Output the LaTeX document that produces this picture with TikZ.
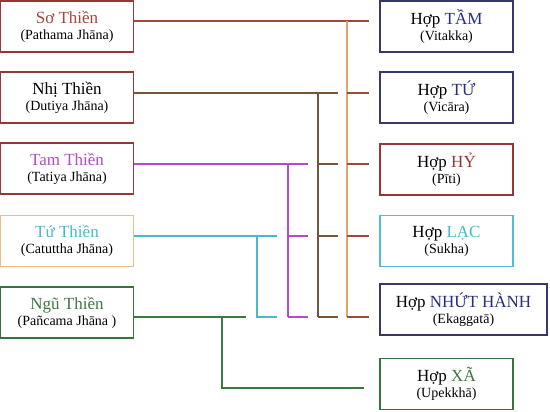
\documentclass[tikz,border=0pt]{standalone}
\usepackage{fontspec}
\setmainfont{Liberation Serif}
\definecolor{boxred}{RGB}{150,55,55}
\definecolor{boxtan}{RGB}{232,192,125}
\definecolor{boxnavy}{RGB}{55,55,105}
\definecolor{boxgreen}{RGB}{55,115,60}
\definecolor{boxcyan}{RGB}{80,190,205}
\definecolor{sored}{RGB}{165,70,60}
\definecolor{sotan}{RGB}{222,165,105}
\definecolor{nhibrown}{RGB}{115,85,60}
\definecolor{tampurple}{RGB}{180,75,200}
\definecolor{tucyan}{RGB}{75,185,205}
\definecolor{ngugreen}{RGB}{60,120,65}
\definecolor{navytext}{RGB}{40,45,125}
\newcommand\ttl[1]{{\fontsize{17}{17}\selectfont #1}}

\begin{document}
\begin{tikzpicture}[x=1pt,y=-1pt]
		\useasboundingbox (0,0) rectangle (550,412);
		% boxes
		\begin{scope}[every node/.style={draw,line width=1.6pt,fill=white,inner sep=0pt,
			minimum width=133pt,minimum height=51pt,align=center,
			font=\fontsize{14}{16}\selectfont}]
			\node[draw=boxred] (s1) at (67,26.5) {\ttl{\textcolor{sored}{Sơ Thiền}}\\(Pathama Jhāna)};
			\node[draw=boxred] (s2) at (67,97.5) {\ttl{Nhị Thiền}\\(Dutiya Jhāna)};
			\node[draw=boxred] (s3) at (67,168.5) {\ttl{\textcolor{tampurple}{Tam Thiền}}\\(Tatiya Jhāna)};
			\node[draw=boxtan] (s4) at (67,241) {\ttl{\textcolor{tucyan}{Tứ Thiền}}\\(Catuttha Jhāna)};
			\node[draw=boxgreen] (s5) at (67,312.5) {\ttl{\textcolor{ngugreen}{Ngũ Thiền}}\\(Pañcama Jhāna )};
			\node[draw=boxnavy] (h1) at (446.5,26.5) {\ttl{Hợp \textcolor{navytext}{TẦM}}\\(Vitakka)};
			\node[draw=boxnavy] (h2) at (446.5,97.5) {\ttl{Hợp \textcolor{navytext}{TỨ}}\\(Vicāra)};
			\node[draw=boxred] (h3) at (446.5,169.5) {\ttl{Hợp \textcolor{boxred}{HỶ}}\\(Pīti)};
			\node[draw=boxcyan] (h4) at (446.5,241) {\ttl{Hợp \textcolor{tucyan}{LẠC}}\\(Sukha)};
			\node[draw=boxnavy,minimum width=167pt] (h5) at (463.5,309.5) {\ttl{Hợp \textcolor{navytext}{NHỨT HÀNH}}\\(Ekaggatā)};
			\node[draw=boxgreen] (h6) at (446.5,384) {\ttl{Hợp \textcolor{ngugreen}{XÃ}}\\(Upekkhā)};
		\end{scope}
		% rows and columns of the branching lines
		\coordinate (r1) at (0,21);
		\coordinate (r2) at (0,93);
		\coordinate (r3) at (0,164);
		\coordinate (r4) at (0,236);
		\coordinate (r5) at (0,317);
		\coordinate (r6) at (0,388);
		\coordinate (a1) at (347,0); \coordinate (e1) at (369,0);
		\coordinate (a2) at (318,0); \coordinate (e2) at (338,0);
		\coordinate (a3) at (288,0); \coordinate (e3) at (308,0);
		\coordinate (a4) at (257,0); \coordinate (e4) at (277,0);
		\coordinate (a5) at (222,0); \coordinate (e5) at (246,0);
		\coordinate (e6) at (364,0);
		\begin{scope}[line width=1.3pt]
			% So Thien
			\draw[sored] (s1.east |- r1) -- (e1 |- r1);
			\draw[sotan] (a1 |- r1) -- (a1 |- r5);
			\foreach \r in {r2,r3,r4,r5}
				\draw[sored] (a1 |- \r) -- (e1 |- \r);
			% Nhi Thien
			\draw[nhibrown] (s2.east |- r2) -- (e2 |- r2);
			\draw[nhibrown] (a2 |- r2) -- (a2 |- r5);
			\foreach \r in {r3,r4,r5}
				\draw[nhibrown] (a2 |- \r) -- (e2 |- \r);
			% Tam Thien
			\draw[tampurple] (s3.east |- r3) -- (e3 |- r3);
			\draw[tampurple] (a3 |- r3) -- (a3 |- r5);
			\foreach \r in {r4,r5}
				\draw[tampurple] (a3 |- \r) -- (e3 |- \r);
			% Tu Thien
			\draw[tucyan] (s4.east |- r4) -- (e4 |- r4);
			\draw[tucyan] (a4 |- r4) -- (a4 |- r5) -- (e4 |- r5);
			% Ngu Thien
			\draw[ngugreen] (s5.east |- r5) -- (e5 |- r5);
			\draw[ngugreen] (a5 |- r5) -- (a5 |- r6) -- (e6 |- r6);
		\end{scope}
	\end{tikzpicture}
\end{document}
